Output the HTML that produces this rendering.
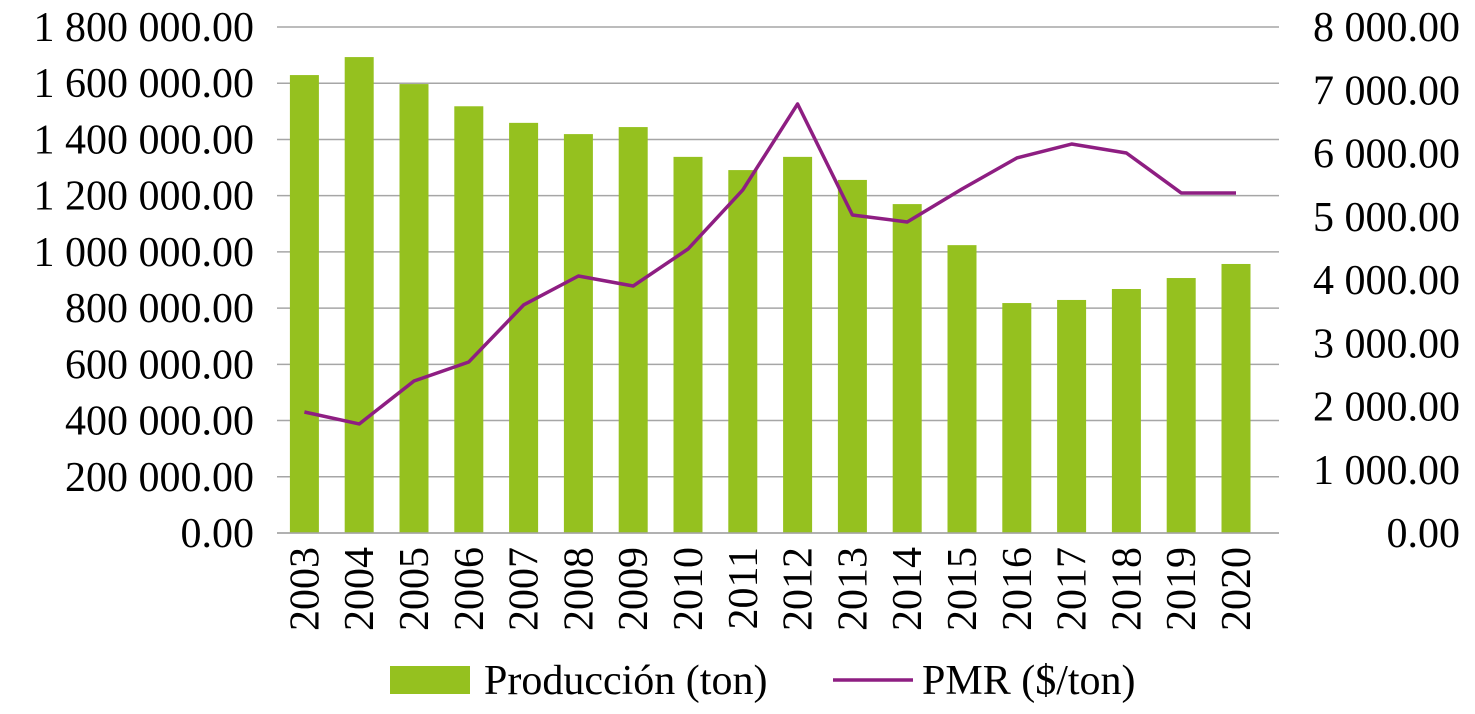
<!DOCTYPE html>
<html><head><meta charset="utf-8"><style>
body{margin:0;background:#fff}
text{font-family:"Liberation Serif",serif;font-size:42px;fill:#000}
</style></head><body>
<svg id="c" width="1475" height="709"></svg>
<script>
const years=["2003","2004","2005","2006","2007","2008","2009","2010","2011","2012","2013","2014","2015","2016","2017","2018","2019","2020"];
const produccion=[1629000,1693000,1597000,1518000,1459000,1419000,1444000,1338000,1291000,1338000,1256000,1170000,1024000,818000,829000,868000,907000,957000];
const pmrVals=[1913,1724,2403,2704,3605,4063,3905,4490,5423,6783,5028,4917,5439,5929,6150,6008,5376,5376];
const leftTicks=["0.00","200 000.00","400 000.00","600 000.00","800 000.00","1 000 000.00","1 200 000.00","1 400 000.00","1 600 000.00","1 800 000.00"];
const rightTicks=["0.00","1 000.00","2 000.00","3 000.00","4 000.00","5 000.00","6 000.00","7 000.00","8 000.00"];
const svg=document.getElementById('c');const NS="http://www.w3.org/2000/svg";
const L=277,R=1279,T=27,B=533;
const yL=v=>B-(v/1800000)*(B-T);
const yR=v=>B-(v/8000)*(B-T);
const bw=54.8;
const xC=i=>L+bw*(i+0.5);
function mk(t,a,p){const e=document.createElementNS(NS,t);for(const k in a)e.setAttribute(k,a[k]);(p||svg).appendChild(e);return e;}
leftTicks.forEach((t,i)=>{const y=yL(i*200000);
const g=mk('line',{x1:L,x2:R,y1:y,y2:y,stroke:'#a6a6a6','stroke-width':1.5});

const tx=mk('text',{x:254,y:y+14,'text-anchor':'end'});tx.textContent=t;
});
rightTicks.forEach((t,i)=>{const y=yR(i*1000);
const tx=mk('text',{x:1460,y:y+14,'text-anchor':'end'});tx.textContent=t;
});
years.forEach((yr,i)=>{const y=yL(produccion[i]);
const r=mk('rect',{x:xC(i)-14.5,y:y,width:29,height:B-y,fill:'#95c11f'});

const tx=mk('text',{transform:`translate(${xC(i)+14},${547}) rotate(-90)`,'text-anchor':'end'});tx.textContent=yr;
});
const ax=mk('line',{x1:L,x2:R,y1:B,y2:B,stroke:'#a6a6a6','stroke-width':1.5});

const pl=mk('polyline',{points:pmrVals.map((v,i)=>xC(i)+','+yR(v)).join(' '),fill:'none',stroke:'#8e1e82','stroke-width':3.5,'stroke-linejoin':'round'});

const lg=mk('g',{});
const lr=mk('rect',{x:390,y:666,width:80,height:28,fill:'#95c11f'},lg);

const lt1=mk('text',{x:484,y:694},lg);lt1.textContent='Producción (ton)';

const ll=mk('line',{x1:833,x2:913,y1:680,y2:680,stroke:'#8e1e82','stroke-width':3.5},lg);

const lt2=mk('text',{x:922,y:694},lg);lt2.textContent='PMR ($/ton)';

</script>
</body></html>
